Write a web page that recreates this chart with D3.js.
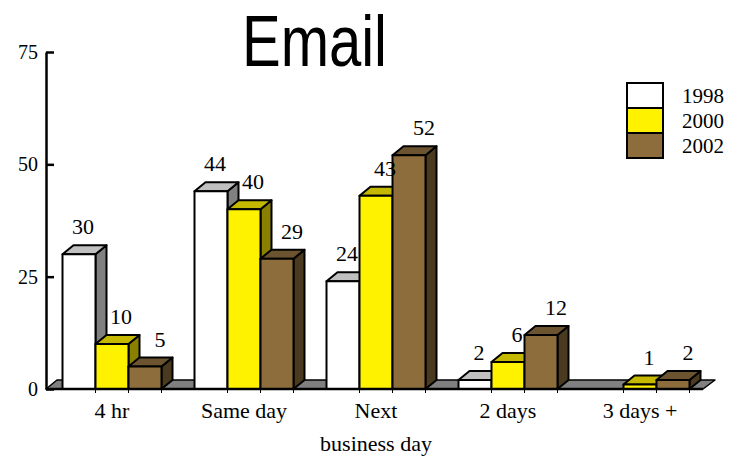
<!DOCTYPE html>
<html>
<head>
<meta charset="utf-8">
<script src="https://cdn.jsdelivr.net/npm/d3@7/dist/d3.min.js"></script>
<style>
  body { margin: 0; background: #fff; }
  svg { display: block; }
</style>
</head>
<body>
<svg id="chart" width="735" height="457"></svg>
<script>
// ---- data ----
const categories = ["4 hr", "Same day", "Next\nbusiness day", "2 days", "3 days +"];
const seriesNames = ["1998", "2000", "2002"];
const values1998 = [30, 44, 24, 2, 0];
const values2000 = [10, 40, 43, 6, 1];
const values2002 = [5, 29, 52, 12, 2];
const yTicks = [0, 25, 50, 75];
const title = "Email";

// ---- styles ----
const palettes = [
  { front: "#ffffff", top: "#c0c0c0", side: "#808080" },
  { front: "#fff200", top: "#c4b800", side: "#8a8000" },
  { front: "#8c6d3b", top: "#6c5431", side: "#4a3b20" }
];
const labelShift = [4, 9, 15];
const DX = 11, DY = -9;
const serif = "'Liberation Serif', 'Times New Roman', serif";

const seriesValues = [values1998, values2000, values2002];
const svg = d3.select("#chart");

const x0 = d3.scaleBand().domain(categories).range([46, 706]).paddingInner(0.25).paddingOuter(0.125);
const x1 = d3.scaleBand().domain(seriesNames).range([0, x0.bandwidth()]);
const y = d3.scaleLinear().domain([0, 75]).range([389, 52]);

// title
svg.append("text")
  .attr("x", 314.5).attr("y", 66)
  .attr("text-anchor", "middle")
  .attr("font-family", "'Liberation Sans', Arial, sans-serif")
  .attr("font-size", 72)
  .attr("textLength", 145)
  .attr("lengthAdjust", "spacingAndGlyphs")
  .text(title);

// floor
const y0 = y(0);
const xL = x0.range()[0], xR = 703;
svg.append("path")
  .attr("d", `M${xL},${y0} L${xL + DX},${y0 + DY} L${xR + DX + 1},${y0 + DY} L${xR},${y0} Z`)
  .attr("fill", "#808080").attr("stroke", "#000").attr("stroke-width", 1.5)
  .attr("stroke-linejoin", "round");

// bars
const data = [];
categories.forEach((c, ci) => {
  seriesNames.forEach((s, si) => {
    data.push({ c, s, si, v: seriesValues[si][ci] });
  });
});

const bars = svg.append("g");
data.forEach(d => {
  const xa = x0(d.c) + x1(d.s);
  const w = x1.bandwidth();
  const yt = y(d.v);
  const p = palettes[d.si];
  if (d.v <= 0) return;
  const g = bars.append("g").attr("stroke", "#000").attr("stroke-width", 2).attr("stroke-linejoin", "round");
  // side
  g.append("path")
    .attr("d", `M${xa + w},${y0} L${xa + w + DX},${y0 + DY} L${xa + w + DX},${yt + DY} L${xa + w},${yt} Z`)
    .attr("fill", p.side);
  // top
  g.append("path")
    .attr("d", `M${xa},${yt} L${xa + DX},${yt + DY} L${xa + w + DX},${yt + DY} L${xa + w},${yt} Z`)
    .attr("fill", p.top);
  // front
  g.append("rect")
    .attr("x", xa).attr("y", yt).attr("width", w).attr("height", y0 - yt)
    .attr("fill", p.front);
});

// baseline
svg.append("line")
  .attr("x1", xL).attr("x2", xR).attr("y1", y0).attr("y2", y0)
  .attr("stroke", "#000").attr("stroke-width", 2.5);

// small ticks below baseline at bar edges
const tickXs = [];
categories.forEach(c => seriesNames.forEach(s => tickXs.push(x0(c) + x1(s) + x1.bandwidth())));
svg.append("g").selectAll("line").data(tickXs).join("line")
  .attr("x1", d => d).attr("x2", d => d)
  .attr("y1", y0).attr("y2", y0 + 4)
  .attr("stroke", "#000").attr("stroke-width", 1);

// y axis
const yAxis = d3.axisLeft(y).tickValues(yTicks).tickSizeInner(-8).tickSizeOuter(0).tickPadding(8);
const ga = svg.append("g").attr("transform", `translate(${xL},0)`).call(yAxis);
ga.select(".domain").attr("stroke", "#000").attr("stroke-width", 2.5);
ga.selectAll(".tick line").attr("stroke", "#000").attr("stroke-width", 2.5);
ga.selectAll(".tick text")
  .attr("font-family", serif).attr("font-size", 20).attr("fill", "#000");

// value labels
svg.append("g").selectAll("text").data(data.filter(d => d.v > 0)).join("text")
  .attr("x", d => x0(d.c) + x1(d.s) + x1.bandwidth() / 2 + labelShift[d.si])
  .attr("y", d => y(d.v) - 20)
  .attr("text-anchor", "middle")
  .attr("font-family", serif).attr("font-size", 22)
  .text(d => d.v);

// category labels
const cl = svg.append("g");
categories.forEach(c => {
  const t = cl.append("text")
    .attr("x", x0(c) + x0.bandwidth() / 2)
    .attr("y", 418)
    .attr("text-anchor", "middle")
    .attr("font-family", serif).attr("font-size", 22);
  c.split("\n").forEach((line, i) => {
    t.append("tspan").attr("x", x0(c) + x0.bandwidth() / 2).attr("dy", i === 0 ? 0 : 33).text(line);
  });
});

// legend
const lg = svg.append("g").attr("transform", "translate(627,83)");
seriesNames.forEach((s, i) => {
  lg.append("rect").attr("x", 0).attr("y", i * 25).attr("width", 36).attr("height", 25)
    .attr("fill", palettes[i].front).attr("stroke", "#000").attr("stroke-width", 2);
  lg.append("text").attr("x", 55).attr("y", i * 25 + 20)
    .attr("font-family", serif).attr("font-size", 21).text(s);
});
</script>
</body>
</html>
